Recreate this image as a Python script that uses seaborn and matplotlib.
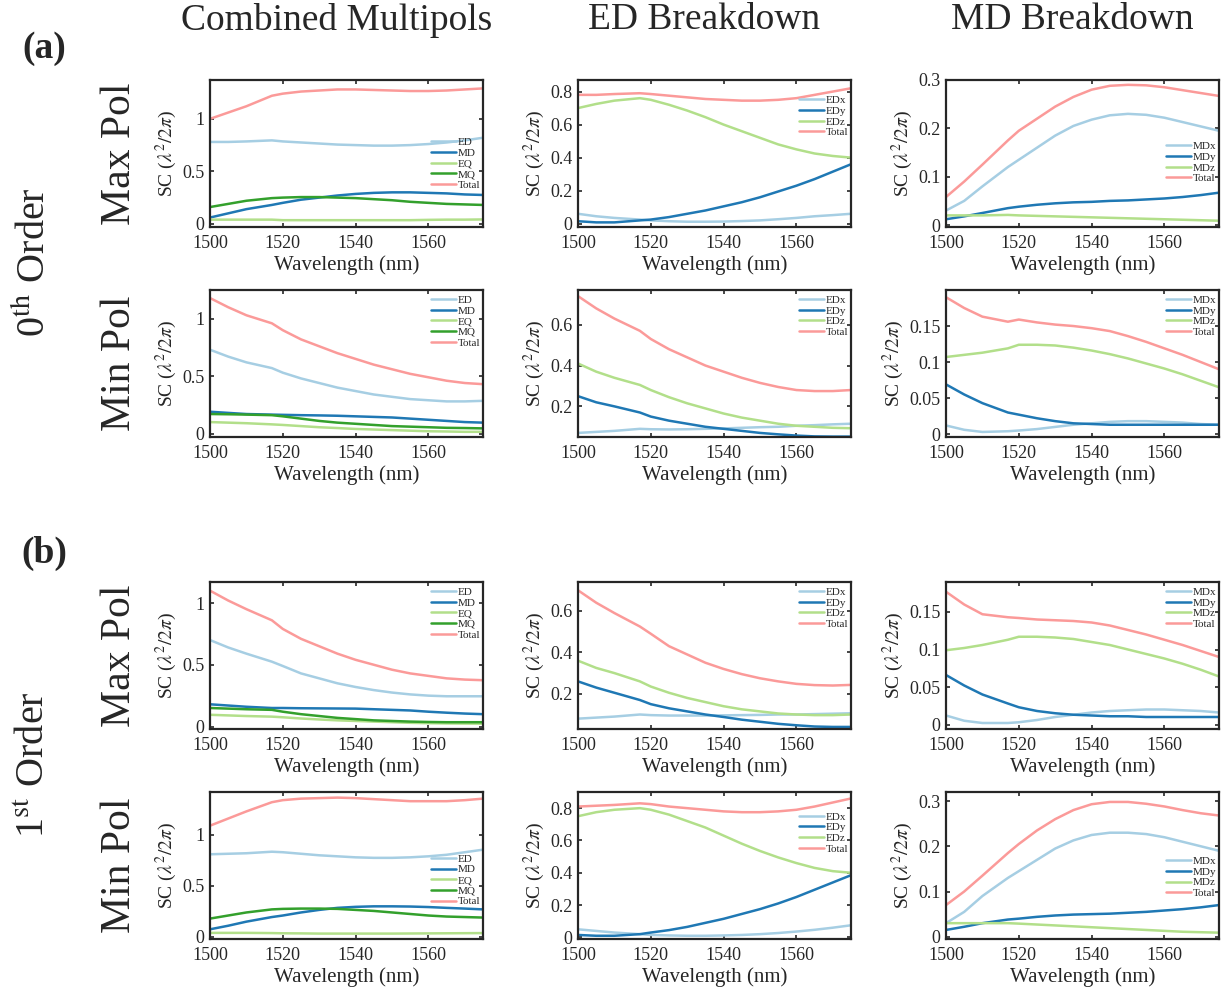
import numpy as np
import pandas as pd
import seaborn as sns
import matplotlib.pyplot as plt
from matplotlib.ticker import FormatStrFormatter

# wavelength grid (nm)
wl = [1500, 1505, 1510, 1517, 1520, 1525, 1530, 1535, 1540, 1545, 1550, 1555, 1560, 1565, 1570, 1575]

# ---- (a) 0th order, Max Pol ----
a_max_comb = {
    'ED':    [0.78, 0.78, 0.785, 0.795, 0.785, 0.775, 0.765, 0.755, 0.75, 0.745, 0.745, 0.75, 0.76, 0.775, 0.795, 0.82],
    'MD':    [0.06, 0.10, 0.14, 0.18, 0.20, 0.23, 0.25, 0.27, 0.285, 0.295, 0.30, 0.30, 0.295, 0.29, 0.28, 0.275],
    'EQ':    [0.04, 0.04, 0.04, 0.04, 0.035, 0.035, 0.035, 0.035, 0.035, 0.035, 0.035, 0.035, 0.038, 0.04, 0.04, 0.042],
    'MQ':    [0.16, 0.19, 0.22, 0.245, 0.25, 0.255, 0.255, 0.25, 0.245, 0.235, 0.225, 0.21, 0.20, 0.19, 0.185, 0.18],
    'Total': [1.00, 1.06, 1.12, 1.22, 1.24, 1.26, 1.27, 1.28, 1.28, 1.275, 1.27, 1.265, 1.265, 1.27, 1.28, 1.29],
}
a_max_ed = {
    'EDx':   [0.06, 0.045, 0.035, 0.025, 0.02, 0.015, 0.012, 0.012, 0.013, 0.016, 0.02, 0.027, 0.035, 0.045, 0.052, 0.06],
    'EDy':   [0.015, 0.008, 0.008, 0.02, 0.025, 0.04, 0.06, 0.08, 0.105, 0.13, 0.16, 0.195, 0.23, 0.27, 0.315, 0.36],
    'EDz':   [0.70, 0.725, 0.745, 0.76, 0.75, 0.72, 0.685, 0.645, 0.60, 0.56, 0.52, 0.48, 0.45, 0.425, 0.41, 0.40],
    'Total': [0.78, 0.78, 0.785, 0.79, 0.785, 0.775, 0.765, 0.755, 0.75, 0.745, 0.745, 0.75, 0.76, 0.78, 0.80, 0.82],
}
a_max_md = {
    'MDx':   [0.03, 0.05, 0.08, 0.12, 0.135, 0.16, 0.185, 0.205, 0.218, 0.227, 0.23, 0.228, 0.222, 0.213, 0.204, 0.195],
    'MDy':   [0.012, 0.018, 0.025, 0.035, 0.038, 0.042, 0.045, 0.047, 0.048, 0.05, 0.051, 0.053, 0.055, 0.058, 0.062, 0.067],
    'MDz':   [0.02, 0.02, 0.02, 0.021, 0.02, 0.019, 0.018, 0.017, 0.016, 0.015, 0.014, 0.013, 0.012, 0.011, 0.01, 0.009],
    'Total': [0.058, 0.09, 0.125, 0.175, 0.195, 0.22, 0.245, 0.265, 0.28, 0.288, 0.29, 0.289, 0.285, 0.279, 0.273, 0.267],
}

# ---- (a) 0th order, Min Pol ----
a_min_comb = {
    'ED':    [0.73, 0.67, 0.62, 0.57, 0.53, 0.48, 0.44, 0.40, 0.37, 0.34, 0.32, 0.30, 0.29, 0.28, 0.28, 0.285],
    'MD':    [0.19, 0.18, 0.17, 0.165, 0.163, 0.16, 0.158, 0.155, 0.15, 0.145, 0.14, 0.13, 0.12, 0.11, 0.10, 0.095],
    'EQ':    [0.10, 0.095, 0.09, 0.08, 0.075, 0.065, 0.055, 0.048, 0.04, 0.035, 0.03, 0.025, 0.02, 0.018, 0.015, 0.015],
    'MQ':    [0.17, 0.168, 0.165, 0.16, 0.15, 0.13, 0.11, 0.095, 0.085, 0.075, 0.065, 0.06, 0.055, 0.05, 0.048, 0.045],
    'Total': [1.18, 1.10, 1.03, 0.96, 0.90, 0.82, 0.76, 0.70, 0.65, 0.60, 0.56, 0.52, 0.49, 0.46, 0.44, 0.43],
}
a_min_ed = {
    'EDx':   [0.07, 0.075, 0.08, 0.09, 0.088, 0.087, 0.088, 0.09, 0.092, 0.095, 0.098, 0.10, 0.105, 0.108, 0.112, 0.115],
    'EDy':   [0.25, 0.22, 0.20, 0.17, 0.15, 0.13, 0.115, 0.10, 0.09, 0.08, 0.07, 0.063, 0.057, 0.053, 0.052, 0.052],
    'EDz':   [0.41, 0.37, 0.34, 0.305, 0.28, 0.245, 0.215, 0.19, 0.165, 0.145, 0.13, 0.115, 0.105, 0.10, 0.095, 0.093],
    'Total': [0.74, 0.68, 0.63, 0.57, 0.53, 0.48, 0.44, 0.40, 0.37, 0.34, 0.315, 0.295, 0.28, 0.275, 0.275, 0.28],
}
a_min_md = {
    'MDx':   [0.012, 0.006, 0.003, 0.004, 0.005, 0.007, 0.01, 0.013, 0.015, 0.017, 0.018, 0.018, 0.017, 0.016, 0.014, 0.013],
    'MDy':   [0.069, 0.055, 0.043, 0.03, 0.027, 0.022, 0.018, 0.015, 0.014, 0.013, 0.013, 0.013, 0.013, 0.013, 0.013, 0.013],
    'MDz':   [0.107, 0.11, 0.113, 0.119, 0.124, 0.124, 0.123, 0.12, 0.116, 0.111, 0.105, 0.098, 0.091, 0.083, 0.074, 0.065],
    'Total': [0.19, 0.175, 0.163, 0.156, 0.159, 0.155, 0.152, 0.15, 0.147, 0.143, 0.136, 0.128, 0.119, 0.11, 0.10, 0.09],
}

# ---- (b) 1st order, Max Pol ----
b_max_comb = {
    'ED':    [0.70, 0.64, 0.59, 0.525, 0.49, 0.43, 0.39, 0.35, 0.32, 0.295, 0.275, 0.26, 0.25, 0.245, 0.245, 0.245],
    'MD':    [0.18, 0.17, 0.16, 0.15, 0.15, 0.148, 0.147, 0.146, 0.145, 0.14, 0.135, 0.13, 0.12, 0.112, 0.105, 0.10],
    'EQ':    [0.095, 0.09, 0.085, 0.08, 0.075, 0.065, 0.057, 0.05, 0.045, 0.04, 0.035, 0.03, 0.027, 0.025, 0.024, 0.023],
    'MQ':    [0.15, 0.145, 0.14, 0.135, 0.12, 0.10, 0.085, 0.07, 0.06, 0.05, 0.045, 0.04, 0.037, 0.035, 0.035, 0.035],
    'Total': [1.10, 1.02, 0.95, 0.86, 0.79, 0.71, 0.65, 0.59, 0.54, 0.50, 0.46, 0.43, 0.41, 0.39, 0.38, 0.375],
}
b_max_ed = {
    'EDx':   [0.08, 0.085, 0.09, 0.10, 0.097, 0.095, 0.095, 0.095, 0.096, 0.097, 0.098, 0.10, 0.10, 0.102, 0.104, 0.106],
    'EDy':   [0.26, 0.23, 0.205, 0.17, 0.15, 0.13, 0.115, 0.10, 0.088, 0.075, 0.065, 0.055, 0.048, 0.042, 0.04, 0.04],
    'EDz':   [0.36, 0.325, 0.30, 0.26, 0.235, 0.205, 0.18, 0.16, 0.14, 0.125, 0.115, 0.105, 0.10, 0.097, 0.097, 0.10],
    'Total': [0.70, 0.64, 0.59, 0.525, 0.49, 0.43, 0.39, 0.35, 0.32, 0.295, 0.275, 0.26, 0.248, 0.242, 0.24, 0.243],
}
b_max_md = {
    'MDx':   [0.012, 0.005, 0.002, 0.002, 0.003, 0.006, 0.01, 0.013, 0.016, 0.018, 0.019, 0.02, 0.02, 0.019, 0.018, 0.016],
    'MDy':   [0.066, 0.052, 0.04, 0.028, 0.023, 0.018, 0.015, 0.013, 0.012, 0.011, 0.011, 0.01, 0.01, 0.01, 0.01, 0.01],
    'MDz':   [0.099, 0.102, 0.106, 0.113, 0.117, 0.117, 0.116, 0.114, 0.11, 0.106, 0.10, 0.094, 0.088, 0.081, 0.073, 0.064],
    'Total': [0.177, 0.16, 0.147, 0.143, 0.142, 0.14, 0.139, 0.138, 0.136, 0.132, 0.126, 0.12, 0.113, 0.106, 0.098, 0.09],
}

# ---- (b) 1st order, Min Pol ----
b_min_comb = {
    'ED':    [0.81, 0.815, 0.82, 0.835, 0.83, 0.815, 0.80, 0.79, 0.78, 0.775, 0.775, 0.78, 0.79, 0.805, 0.83, 0.855],
    'MD':    [0.075, 0.11, 0.15, 0.195, 0.21, 0.24, 0.265, 0.285, 0.295, 0.30, 0.30, 0.298, 0.293, 0.285, 0.278, 0.27],
    'EQ':    [0.04, 0.04, 0.04, 0.038, 0.036, 0.035, 0.033, 0.033, 0.033, 0.033, 0.033, 0.034, 0.035, 0.036, 0.037, 0.038],
    'MQ':    [0.18, 0.21, 0.24, 0.27, 0.275, 0.278, 0.278, 0.275, 0.265, 0.255, 0.24, 0.225, 0.21, 0.20, 0.195, 0.19],
    'Total': [1.09, 1.16, 1.23, 1.32, 1.34, 1.355, 1.36, 1.365, 1.36, 1.35, 1.34, 1.33, 1.33, 1.33, 1.34, 1.355],
}
b_min_ed = {
    'EDx':   [0.05, 0.04, 0.03, 0.02, 0.015, 0.012, 0.01, 0.01, 0.012, 0.015, 0.02, 0.027, 0.036, 0.047, 0.06, 0.075],
    'EDy':   [0.015, 0.01, 0.01, 0.02, 0.03, 0.045, 0.065, 0.09, 0.115, 0.145, 0.175, 0.21, 0.25, 0.295, 0.34, 0.385],
    'EDz':   [0.75, 0.775, 0.79, 0.80, 0.79, 0.76, 0.72, 0.68, 0.63, 0.58, 0.535, 0.495, 0.46, 0.43, 0.41, 0.40],
    'Total': [0.81, 0.815, 0.82, 0.83, 0.825, 0.81, 0.80, 0.79, 0.78, 0.775, 0.775, 0.78, 0.79, 0.81, 0.835, 0.86],
}
b_min_md = {
    'MDx':   [0.03, 0.055, 0.09, 0.13, 0.145, 0.17, 0.195, 0.213, 0.225, 0.23, 0.23, 0.227, 0.22, 0.21, 0.20, 0.19],
    'MDy':   [0.015, 0.022, 0.03, 0.038, 0.04, 0.044, 0.047, 0.049, 0.05, 0.051, 0.053, 0.055, 0.058, 0.061, 0.065, 0.07],
    'MDz':   [0.03, 0.03, 0.03, 0.03, 0.029, 0.027, 0.025, 0.023, 0.021, 0.019, 0.017, 0.015, 0.013, 0.011, 0.01, 0.009],
    'Total': [0.07, 0.10, 0.135, 0.185, 0.205, 0.235, 0.26, 0.28, 0.293, 0.298, 0.298, 0.294, 0.288, 0.28, 0.273, 0.268],
}

col_titles = ['Combined Multipols', 'ED Breakdown', 'MD Breakdown']
row_labels = ['Max Pol', 'Min Pol', 'Max Pol', 'Min Pol']

panels = [
    [a_max_comb, a_max_ed, a_max_md],
    [a_min_comb, a_min_ed, a_min_md],
    [b_max_comb, b_max_ed, b_max_md],
    [b_min_comb, b_min_ed, b_min_md],
]

ylims = [
    [(-0.03, 1.37), (-0.02, 0.87), (-0.004, 0.30)],
    [(-0.03, 1.25), (0.05, 0.77), (-0.004, 0.20)],
    [(-0.02, 1.17), (0.03, 0.74), (-0.006, 0.19)],
    [(-0.02, 1.42), (-0.01, 0.90), (-0.005, 0.32)],
]
yticks = [
    [[0, 0.5, 1], [0, 0.2, 0.4, 0.6, 0.8], [0, 0.1, 0.2, 0.3]],
    [[0, 0.5, 1], [0.2, 0.4, 0.6], [0, 0.05, 0.1, 0.15]],
    [[0, 0.5, 1], [0.2, 0.4, 0.6], [0, 0.05, 0.1, 0.15]],
    [[0, 0.5, 1], [0, 0.2, 0.4, 0.6, 0.8], [0, 0.1, 0.2, 0.3]],
]
# legend placement (loc, anchor)
leg_pos = [
    [('center right', (1.0, 0.43)), ('upper right', (1.0, 0.91)), ('center right', (1.0, 0.44))],
    [('upper right', (1.0, 0.98)), ('upper right', (1.0, 0.98)), ('upper right', (1.0, 0.98))],
    [('upper right', (1.0, 0.98)), ('upper right', (1.0, 0.98)), ('upper right', (1.0, 0.98))],
    [('center right', (1.0, 0.40)), ('upper right', (1.0, 0.88)), ('center right', (1.0, 0.42))],
]

pal = sns.color_palette('Paired')
colors = [pal[0], pal[1], pal[2], pal[3], pal[4]]

sns.set_style('ticks')
plt.rcParams['font.family'] = ['Liberation Serif', 'DejaVu Serif']
plt.rcParams['mathtext.fontset'] = 'stix'

W, H = 1225, 993
fig = plt.figure(figsize=(W / 100, H / 100), dpi=100)

col_left = [210, 578, 946]
row_top = [80, 290, 582, 792]
aw, ah = 273, 147

for r in range(4):
    for c in range(3):
        ax = fig.add_axes([col_left[c] / W, 1 - (row_top[r] + ah) / H, aw / W, ah / H])
        data = panels[r][c]
        names = list(data.keys())
        df = pd.DataFrame({'wl': wl * len(names),
                           'val': sum([data[n] for n in names], []),
                           'series': sum([[n] * len(wl) for n in names], [])})
        if len(names) == 5:
            pmap = dict(zip(names, colors))
        else:
            pmap = dict(zip(names, [colors[0], colors[1], colors[2], colors[4]]))
        sns.lineplot(data=df, x='wl', y='val', hue='series', hue_order=names,
                     palette=pmap, linewidth=1.8, ax=ax)
        ax.set_xlim(1500, 1575)
        ax.set_ylim(*ylims[r][c])
        ax.set_xticks([1500, 1520, 1540, 1560])
        ax.set_yticks(yticks[r][c])
        ax.yaxis.set_major_formatter(FormatStrFormatter('%g'))
        ax.tick_params(direction='in', top=True, right=True, length=3, width=1.2,
                       labelsize=13)
        ax.tick_params(axis='x', pad=6)
        ax.tick_params(axis='y', pad=4)
        for s in ax.spines.values():
            s.set_linewidth(1.6)
            s.set_color('#262626')
        ax.set_xlabel('Wavelength (nm)', fontsize=15, labelpad=2)
        ax.set_ylabel(r'SC ($\lambda^2/2\pi$)', fontsize=14, labelpad=2)
        loc, anchor = leg_pos[r][c]
        ax.legend(loc=loc, bbox_to_anchor=anchor, frameon=False, fontsize=8,
                  handlelength=2.2, handletextpad=0.2, labelspacing=0.08,
                  borderaxespad=0.1, borderpad=0.1)

# column headers
for c, t in enumerate(col_titles):
    fig.text((col_left[c] + aw / 2 - 10) / W, 1 - 20 / H, t, ha='center', va='center', fontsize=27)

# row labels
for r, t in enumerate(row_labels):
    fig.text(120 / W, 1 - (row_top[r] + ah / 2) / H, t, rotation=90, ha='center', va='center', fontsize=30)

# order labels
fig.text(35 / W, 1 - 262 / H, r'0$^{\rm th}$ Order', rotation=90, ha='center', va='center', fontsize=29)
fig.text(35 / W, 1 - 765 / H, r'1$^{\rm st}$ Order', rotation=90, ha='center', va='center', fontsize=29)

# panel letters
fig.text(44 / W, 1 - 48 / H, '(a)', ha='center', va='center', fontsize=27, fontweight='bold')
fig.text(44 / W, 1 - 553 / H, '(b)', ha='center', va='center', fontsize=27, fontweight='bold')

fig.savefig('out.png', dpi=100, facecolor='white')
